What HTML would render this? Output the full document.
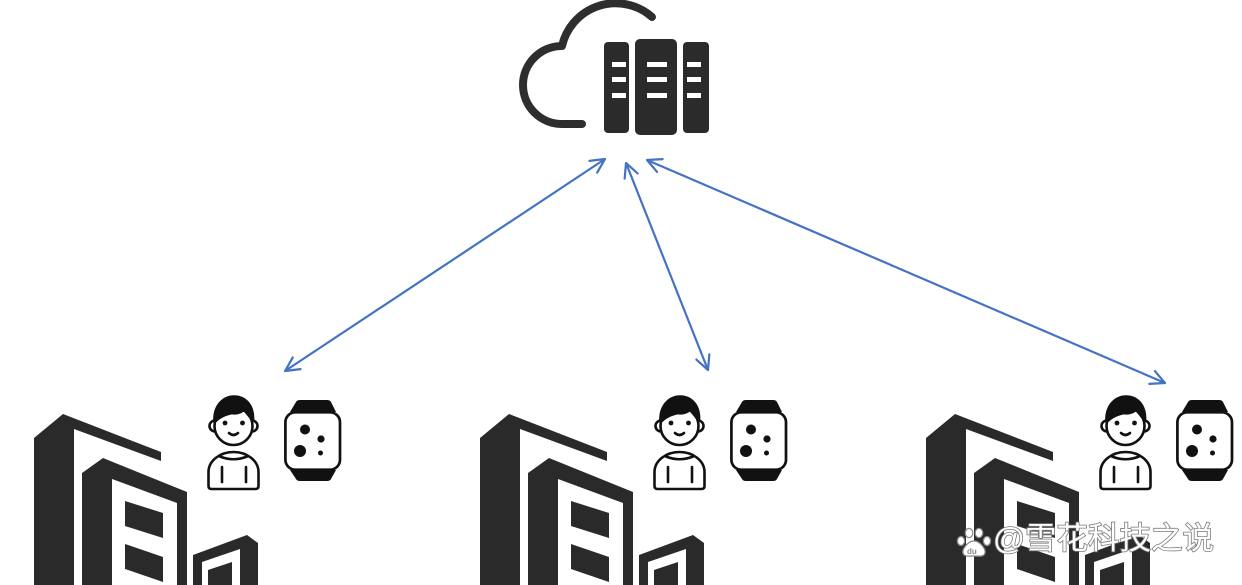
<!DOCTYPE html>
<html>
<head>
<meta charset="utf-8">
<style>
html,body{margin:0;padding:0;background:#fff;}
body{width:1242px;height:585px;overflow:hidden;}
svg{display:block;}
</style>
</head>
<body>
<svg width="1242" height="585" viewBox="0 0 1242 585" xmlns="http://www.w3.org/2000/svg">
<defs>
<marker id="ah" markerUnits="userSpaceOnUse" orient="auto-start-reverse" markerWidth="30" markerHeight="30" refX="0" refY="0" viewBox="-20 -15 30 30" style="overflow:visible">
<path d="M-14,-7 L0,0 L-14,7" fill="none" stroke="#4472C4" stroke-width="2.2" stroke-linecap="round" stroke-linejoin="round"/>
</marker>
</defs>
<rect width="1242" height="585" fill="#fff"/>

<!-- Cloud + servers -->
<path d="M582 124 L562 124 A39 39 0 0 1 562 46 A55 55 0 0 1 652 17" fill="none" stroke="#2e2e2e" stroke-width="8" stroke-linecap="round" stroke-linejoin="round"/>
<rect x="604" y="42" width="25" height="91" rx="4" fill="#2b2b2b"/>
<rect x="635" y="39" width="42" height="96" rx="5" fill="#2b2b2b"/>
<rect x="683" y="42" width="26" height="91" rx="4" fill="#2b2b2b"/>
<g fill="#fff">
<rect x="612" y="62" width="14" height="5"/><rect x="612" y="77" width="14" height="5"/><rect x="612" y="93" width="14" height="5"/>
<rect x="647" y="62" width="20" height="5"/><rect x="647" y="77" width="20" height="5"/><rect x="647" y="93" width="20" height="5"/>
<rect x="687" y="62" width="14" height="5"/><rect x="687" y="77" width="14" height="5"/><rect x="687" y="93" width="14" height="5"/>
</g>

<!-- Arrows -->
<g stroke="#4472C4" stroke-width="2.2" fill="none">
<line x1="285" y1="371" x2="605" y2="159" marker-start="url(#ah)" marker-end="url(#ah)"/>
<line x1="626" y1="163" x2="708" y2="370" marker-start="url(#ah)" marker-end="url(#ah)"/>
<line x1="647" y1="160" x2="1165" y2="383" marker-start="url(#ah)" marker-end="url(#ah)"/>
</g>

<g>
  <g fill="#2a2a2a">
    <polygon points="34,438 63,414 161,452 161,461 74,429 74,585 34,585"/>
    <polygon points="82,473 103,458 187,492 187,585 177,585 177,503 112,479 112,585 82,585"/>
    <polygon points="125,501 163,513 163,538 125,526"/>
    <polygon points="125,544 163,557 163,582 125,569"/>
    <path d="M193,555 L247,535 L258,543 L258,585 L240,585 L240,549 L202,562 L202,585 L193,585 Z"/>
    <polygon points="208,570 232,562 232,585 208,585"/>
  </g>
  <g stroke="#111" stroke-width="2.6" fill="none" stroke-linecap="round" stroke-linejoin="round">
    <path d="M214.5,422 C213.5,405 224,396.5 234,396.5 C245,396.5 254,405 253,421 C250,417 247,413 244,410 C240,413 236,414 232,413 C227,414 222,416 218,419 Z" fill="#111"/>
    <circle cx="233.5" cy="426" r="19"/>
    <path d="M215,420.5 A5.5 5.5 0 0 0 215,431.5"/>
    <path d="M252,420.5 A5.5 5.5 0 0 1 252,431.5"/>
    <path d="M229,433 Q233.5,437 238,433"/>
    <path d="M208.5,486 L208.5,472 A25 20 0 0 1 258.5,472 L258.5,486 Q258.5,489 255.5,489 L211.5,489 Q208.5,489 208.5,486 Z"/>
    <path d="M220,456.5 Q233.5,462 247,456.5"/>
    <line x1="222" y1="467" x2="222" y2="482"/>
    <line x1="246" y1="467" x2="246" y2="482"/>
  </g>
  <circle cx="225" cy="423" r="2.4" fill="#111"/>
  <circle cx="242.5" cy="423" r="2.4" fill="#111"/>
  <g fill="#111">
    <path d="M290,412 L296,402 Q297,400 300,400 L327,400 Q330,400 331,402 L336,412 Z"/>
    <path d="M290,470 L296,479 Q297,481 300,481 L327,481 Q330,481 331,479 L336,470 Z"/>
  </g>
  <rect x="285.4" y="412.3" width="54.6" height="57.4" rx="10" fill="#fff" stroke="#111" stroke-width="2.7"/>
  <g fill="#111">
    <circle cx="305" cy="429.5" r="5"/>
    <circle cx="321" cy="439" r="3.6"/>
    <circle cx="300" cy="451" r="6"/>
    <circle cx="320.5" cy="453" r="2.5"/>
  </g>
</g>
<g transform="translate(446,0)">
  <g fill="#2a2a2a">
    <polygon points="34,438 63,414 161,452 161,461 74,429 74,585 34,585"/>
    <polygon points="82,473 103,458 187,492 187,585 177,585 177,503 112,479 112,585 82,585"/>
    <polygon points="125,501 163,513 163,538 125,526"/>
    <polygon points="125,544 163,557 163,582 125,569"/>
    <path d="M193,555 L247,535 L258,543 L258,585 L240,585 L240,549 L202,562 L202,585 L193,585 Z"/>
    <polygon points="208,570 232,562 232,585 208,585"/>
  </g>
  <g stroke="#111" stroke-width="2.6" fill="none" stroke-linecap="round" stroke-linejoin="round">
    <path d="M214.5,422 C213.5,405 224,396.5 234,396.5 C245,396.5 254,405 253,421 C250,417 247,413 244,410 C240,413 236,414 232,413 C227,414 222,416 218,419 Z" fill="#111"/>
    <circle cx="233.5" cy="426" r="19"/>
    <path d="M215,420.5 A5.5 5.5 0 0 0 215,431.5"/>
    <path d="M252,420.5 A5.5 5.5 0 0 1 252,431.5"/>
    <path d="M229,433 Q233.5,437 238,433"/>
    <path d="M208.5,486 L208.5,472 A25 20 0 0 1 258.5,472 L258.5,486 Q258.5,489 255.5,489 L211.5,489 Q208.5,489 208.5,486 Z"/>
    <path d="M220,456.5 Q233.5,462 247,456.5"/>
    <line x1="222" y1="467" x2="222" y2="482"/>
    <line x1="246" y1="467" x2="246" y2="482"/>
  </g>
  <circle cx="225" cy="423" r="2.4" fill="#111"/>
  <circle cx="242.5" cy="423" r="2.4" fill="#111"/>
  <g fill="#111">
    <path d="M290,412 L296,402 Q297,400 300,400 L327,400 Q330,400 331,402 L336,412 Z"/>
    <path d="M290,470 L296,479 Q297,481 300,481 L327,481 Q330,481 331,479 L336,470 Z"/>
  </g>
  <rect x="285.4" y="412.3" width="54.6" height="57.4" rx="10" fill="#fff" stroke="#111" stroke-width="2.7"/>
  <g fill="#111">
    <circle cx="305" cy="429.5" r="5"/>
    <circle cx="321" cy="439" r="3.6"/>
    <circle cx="300" cy="451" r="6"/>
    <circle cx="320.5" cy="453" r="2.5"/>
  </g>
</g>
<g transform="translate(892,0)">
  <g fill="#2a2a2a">
    <polygon points="34,438 63,414 161,452 161,461 74,429 74,585 34,585"/>
    <polygon points="82,473 103,458 187,492 187,585 177,585 177,503 112,479 112,585 82,585"/>
    <polygon points="125,501 163,513 163,538 125,526"/>
    <polygon points="125,544 163,557 163,582 125,569"/>
    <path d="M193,555 L247,535 L258,543 L258,585 L240,585 L240,549 L202,562 L202,585 L193,585 Z"/>
    <polygon points="208,570 232,562 232,585 208,585"/>
  </g>
  <g stroke="#111" stroke-width="2.6" fill="none" stroke-linecap="round" stroke-linejoin="round">
    <path d="M214.5,422 C213.5,405 224,396.5 234,396.5 C245,396.5 254,405 253,421 C250,417 247,413 244,410 C240,413 236,414 232,413 C227,414 222,416 218,419 Z" fill="#111"/>
    <circle cx="233.5" cy="426" r="19"/>
    <path d="M215,420.5 A5.5 5.5 0 0 0 215,431.5"/>
    <path d="M252,420.5 A5.5 5.5 0 0 1 252,431.5"/>
    <path d="M229,433 Q233.5,437 238,433"/>
    <path d="M208.5,486 L208.5,472 A25 20 0 0 1 258.5,472 L258.5,486 Q258.5,489 255.5,489 L211.5,489 Q208.5,489 208.5,486 Z"/>
    <path d="M220,456.5 Q233.5,462 247,456.5"/>
    <line x1="222" y1="467" x2="222" y2="482"/>
    <line x1="246" y1="467" x2="246" y2="482"/>
  </g>
  <circle cx="225" cy="423" r="2.4" fill="#111"/>
  <circle cx="242.5" cy="423" r="2.4" fill="#111"/>
  <g fill="#111">
    <path d="M290,412 L296,402 Q297,400 300,400 L327,400 Q330,400 331,402 L336,412 Z"/>
    <path d="M290,470 L296,479 Q297,481 300,481 L327,481 Q330,481 331,479 L336,470 Z"/>
  </g>
  <rect x="285.4" y="412.3" width="54.6" height="57.4" rx="10" fill="#fff" stroke="#111" stroke-width="2.7"/>
  <g fill="#111">
    <circle cx="305" cy="429.5" r="5"/>
    <circle cx="321" cy="439" r="3.6"/>
    <circle cx="300" cy="451" r="6"/>
    <circle cx="320.5" cy="453" r="2.5"/>
  </g>
</g>

<!-- Watermark -->
<g fill="#fff" stroke="#8a8a8a" stroke-width="1.3">
  <ellipse cx="961" cy="541" rx="3.6" ry="4.5"/>
  <ellipse cx="969" cy="533" rx="3.8" ry="4.6"/>
  <ellipse cx="979" cy="533" rx="3.8" ry="4.6"/>
  <ellipse cx="987" cy="541" rx="3.6" ry="4.5"/>
  <path d="M974,541 C980,541 986,549 985,553 C984,557 979,556 974,556 C969,556 964,557 963,553 C962,549 968,541 974,541 Z"/>
</g>
<text x="967" y="554" font-family="Liberation Sans, sans-serif" font-size="8" font-weight="bold" fill="#8a8a8a">du</text>
<text x="993" y="549" font-family="'Liberation Sans', 'Noto Sans CJK SC', sans-serif" font-size="31" fill="#fff" stroke="#7a7a7a" stroke-width="1.6" paint-order="stroke" textLength="221" lengthAdjust="spacingAndGlyphs">@雪花科技之说</text>
</svg>
</body>
</html>
